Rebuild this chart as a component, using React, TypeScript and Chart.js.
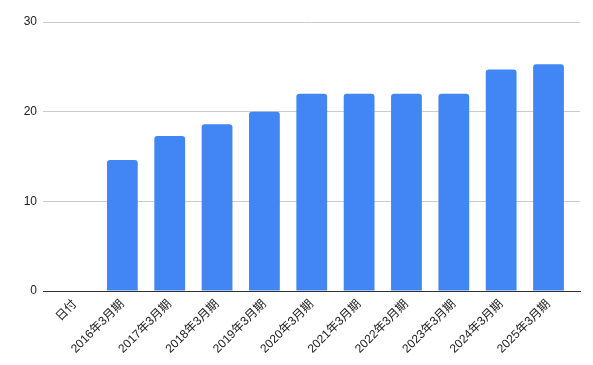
import React, { useEffect, useRef } from "react";
import { Chart, registerables } from "chart.js";

Chart.register(...registerables);

const categories = [
  "日付",
  "2016年3月期",
  "2017年3月期",
  "2018年3月期",
  "2019年3月期",
  "2020年3月期",
  "2021年3月期",
  "2022年3月期",
  "2023年3月期",
  "2024年3月期",
  "2025年3月期",
];
const values: (number | null)[] = [null, 14.6, 17.3, 18.6, 20, 22, 22, 22, 22, 24.7, 25.3];
const yTicks = [0, 10, 20, 30];

const FONT = '"Liberation Sans", Arial, "Noto Sans CJK JP", sans-serif';

export default function App() {
  const ref = useRef<HTMLCanvasElement | null>(null);
  useEffect(() => {
    if (!ref.current) return;
    const chart = new Chart(ref.current, {
      type: "bar",
      data: {
        datasets: [
          {
            data: values.map((v, i) => ({ x: i, y: v })) as any,
            backgroundColor: "#4285F4",
            borderRadius: { topLeft: 3, topRight: 3, bottomLeft: 0, bottomRight: 0 },
            borderSkipped: "bottom",
            barPercentage: 0.65,
            categoryPercentage: 1,
          },
        ],
      },
      options: {
        animation: false,
        responsive: true,
        maintainAspectRatio: false,
        layout: { padding: { top: 22, right: 13, left: 0, bottom: 0 } },
        plugins: { legend: { display: false }, tooltip: { enabled: false } },
        scales: {
          x: {
            type: "linear",
            offset: false,
            min: -0.676,
            max: 10.665,
            afterBuildTicks: (scale: any) => {
              scale.ticks = categories.map((_, i) => ({ value: i }));
            },
            afterFit: (scale: any) => {
              scale.height = 74;
            },
            grid: { display: false, drawTicks: false, offset: false },
            border: { display: true, color: "#333333", width: 1 },
            ticks: {
              autoSkip: false,
              maxRotation: 45,
              minRotation: 45,
              padding: 6,
              color: "#222222",
              font: { family: FONT, size: 12 },
              callback: (v: any) => {
                const i = Math.round(Number(v));
                return Math.abs(Number(v) - i) < 1e-6 ? categories[i] ?? "" : "";
              },
            },
          },
          y: {
            min: 0,
            max: 30,
            afterBuildTicks: (scale: any) => {
              scale.ticks = yTicks.map((v) => ({ value: v }));
            },
            afterFit: (scale: any) => {
              scale.width = 43;
            },
            grid: { color: "#cccccc", drawTicks: false },
            border: { display: false },
            ticks: {
              padding: 6,
              color: "#222222",
              font: { family: FONT, size: 12 },
            },
          },
        },
      },
    });
    return () => chart.destroy();
  }, []);
  return (
    <div style={{ position: "absolute", left: 0, top: 0, width: 593, height: 365, background: "#fff" }}>
      <canvas ref={ref} />
    </div>
  );
}
